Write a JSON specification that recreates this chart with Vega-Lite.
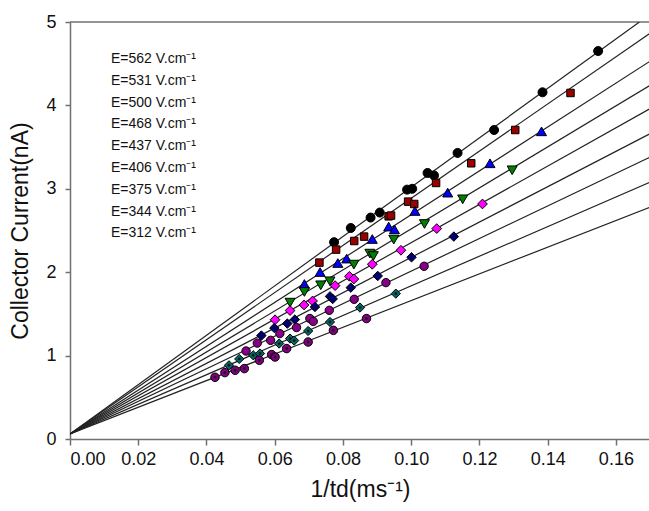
{
  "$schema": "https://vega.github.io/schema/vega-lite/v6.json",
  "width": 580,
  "height": 417,
  "autosize": {"type": "none"},
  "padding": {"left": 70, "top": 22, "right": 0, "bottom": 72},
  "background": "white",
  "config": {
    "view": {"stroke": null},
    "axis": {
      "grid": false,
      "domainColor": "#707070",
      "domainWidth": 1.5,
      "tickColor": "#707070",
      "tickWidth": 1.5,
      "tickSize": 5,
      "labelFont": "Liberation Sans",
      "labelFontSize": 18,
      "labelColor": "#111111",
      "titleFont": "Liberation Sans",
      "titleFontSize": 23,
      "titleFontWeight": "normal",
      "titleColor": "#111111"
    }
  },
  "datasets": {
    "lines": [
      {"E": 562, "x": 0, "y": 0.06}, {"E": 562, "x": 0.1669, "y": 5.0},
      {"E": 531, "x": 0, "y": 0.06}, {"E": 531, "x": 0.17, "y": 4.865},
      {"E": 500, "x": 0, "y": 0.06}, {"E": 500, "x": 0.17, "y": 4.53},
      {"E": 468, "x": 0, "y": 0.06}, {"E": 468, "x": 0.17, "y": 4.24},
      {"E": 437, "x": 0, "y": 0.06}, {"E": 437, "x": 0.17, "y": 3.96},
      {"E": 406, "x": 0, "y": 0.06}, {"E": 406, "x": 0.17, "y": 3.66},
      {"E": 375, "x": 0, "y": 0.06}, {"E": 375, "x": 0.17, "y": 3.38},
      {"E": 344, "x": 0, "y": 0.06}, {"E": 344, "x": 0.17, "y": 3.08},
      {"E": 312, "x": 0, "y": 0.06}, {"E": 312, "x": 0.17, "y": 2.78}
    ],
    "points": [
      {"E": 562, "x": 0.0774, "y": 2.36}, {"E": 562, "x": 0.0823, "y": 2.53}, {"E": 562, "x": 0.0881, "y": 2.655}, {"E": 562, "x": 0.0908, "y": 2.715}, {"E": 562, "x": 0.0988, "y": 2.99}, {"E": 562, "x": 0.1003, "y": 3.0}, {"E": 562, "x": 0.1048, "y": 3.19}, {"E": 562, "x": 0.1067, "y": 3.16}, {"E": 562, "x": 0.1136, "y": 3.43}, {"E": 562, "x": 0.1243, "y": 3.705}, {"E": 562, "x": 0.1385, "y": 4.157}, {"E": 562, "x": 0.1548, "y": 4.652},
      {"E": 531, "x": 0.0731, "y": 2.115}, {"E": 531, "x": 0.078, "y": 2.271}, {"E": 531, "x": 0.0833, "y": 2.374}, {"E": 531, "x": 0.0862, "y": 2.427}, {"E": 531, "x": 0.0934, "y": 2.67}, {"E": 531, "x": 0.0941, "y": 2.679}, {"E": 531, "x": 0.0991, "y": 2.846}, {"E": 531, "x": 0.1009, "y": 2.818}, {"E": 531, "x": 0.1073, "y": 3.07}, {"E": 531, "x": 0.1176, "y": 3.306}, {"E": 531, "x": 0.1305, "y": 3.705}, {"E": 531, "x": 0.1467, "y": 4.149},
      {"E": 500, "x": 0.0687, "y": 1.859}, {"E": 500, "x": 0.0733, "y": 2.002}, {"E": 500, "x": 0.0785, "y": 2.11}, {"E": 500, "x": 0.0811, "y": 2.163}, {"E": 500, "x": 0.0886, "y": 2.398}, {"E": 500, "x": 0.0934, "y": 2.547}, {"E": 500, "x": 0.0951, "y": 2.514}, {"E": 500, "x": 0.1011, "y": 2.734}, {"E": 500, "x": 0.1107, "y": 2.954}, {"E": 500, "x": 0.1231, "y": 3.306}, {"E": 500, "x": 0.1382, "y": 3.689},
      {"E": 468, "x": 0.0645, "y": 1.635}, {"E": 468, "x": 0.0687, "y": 1.763}, {"E": 468, "x": 0.0735, "y": 1.843}, {"E": 468, "x": 0.0762, "y": 1.891}, {"E": 468, "x": 0.0832, "y": 2.091}, {"E": 468, "x": 0.0879, "y": 2.223}, {"E": 468, "x": 0.0889, "y": 2.194}, {"E": 468, "x": 0.0949, "y": 2.391}, {"E": 468, "x": 0.1039, "y": 2.578}, {"E": 468, "x": 0.1151, "y": 2.874}, {"E": 468, "x": 0.1296, "y": 3.222},
      {"E": 437, "x": 0.0601, "y": 1.43}, {"E": 437, "x": 0.0645, "y": 1.54}, {"E": 437, "x": 0.0686, "y": 1.607}, {"E": 437, "x": 0.0711, "y": 1.655}, {"E": 437, "x": 0.0777, "y": 1.839}, {"E": 437, "x": 0.0819, "y": 1.951}, {"E": 437, "x": 0.0832, "y": 1.918}, {"E": 437, "x": 0.0886, "y": 2.095}, {"E": 437, "x": 0.097, "y": 2.263}, {"E": 437, "x": 0.1075, "y": 2.523}, {"E": 437, "x": 0.1209, "y": 2.818},
      {"E": 406, "x": 0.0561, "y": 1.24}, {"E": 406, "x": 0.0599, "y": 1.331}, {"E": 406, "x": 0.0637, "y": 1.384}, {"E": 406, "x": 0.0659, "y": 1.432}, {"E": 406, "x": 0.0718, "y": 1.583}, {"E": 406, "x": 0.0762, "y": 1.71}, {"E": 406, "x": 0.077, "y": 1.68}, {"E": 406, "x": 0.0823, "y": 1.815}, {"E": 406, "x": 0.0902, "y": 1.955}, {"E": 406, "x": 0.1001, "y": 2.179}, {"E": 406, "x": 0.1125, "y": 2.427},
      {"E": 375, "x": 0.0516, "y": 1.055}, {"E": 375, "x": 0.0549, "y": 1.15}, {"E": 375, "x": 0.0588, "y": 1.183}, {"E": 375, "x": 0.0615, "y": 1.264}, {"E": 375, "x": 0.0664, "y": 1.336}, {"E": 375, "x": 0.0703, "y": 1.445}, {"E": 375, "x": 0.0713, "y": 1.41}, {"E": 375, "x": 0.076, "y": 1.543}, {"E": 375, "x": 0.0833, "y": 1.675}, {"E": 375, "x": 0.0926, "y": 1.875}, {"E": 375, "x": 0.1038, "y": 2.071},
      {"E": 344, "x": 0.0466, "y": 0.884}, {"E": 344, "x": 0.0496, "y": 0.96}, {"E": 344, "x": 0.0537, "y": 1.004}, {"E": 344, "x": 0.0557, "y": 1.025}, {"E": 344, "x": 0.0613, "y": 1.144}, {"E": 344, "x": 0.0645, "y": 1.204}, {"E": 344, "x": 0.0657, "y": 1.18}, {"E": 344, "x": 0.0698, "y": 1.295}, {"E": 344, "x": 0.0762, "y": 1.403}, {"E": 344, "x": 0.085, "y": 1.576}, {"E": 344, "x": 0.0955, "y": 1.743},
      {"E": 312, "x": 0.0425, "y": 0.74}, {"E": 312, "x": 0.0454, "y": 0.796}, {"E": 312, "x": 0.0484, "y": 0.824}, {"E": 312, "x": 0.0511, "y": 0.844}, {"E": 312, "x": 0.0555, "y": 0.944}, {"E": 312, "x": 0.0591, "y": 1.012}, {"E": 312, "x": 0.0601, "y": 0.983}, {"E": 312, "x": 0.0635, "y": 1.084}, {"E": 312, "x": 0.0698, "y": 1.163}, {"E": 312, "x": 0.0772, "y": 1.303}, {"E": 312, "x": 0.0869, "y": 1.444}
    ]
  },
  "layer": [
    {
      "data": {"values": [{}]},
      "mark": {"type": "rule", "color": "#707070", "strokeWidth": 1.5},
      "encoding": {
        "y": {"datum": 5, "type": "quantitative", "scale": {"domain": [0, 5], "nice": false}}
      }
    },
    {
      "data": {"name": "lines"},
      "mark": {"type": "line", "color": "#222222", "strokeWidth": 1.2, "clip": true},
      "encoding": {
        "x": {"field": "x", "type": "quantitative"},
        "y": {"field": "y", "type": "quantitative"},
        "detail": {"field": "E", "type": "nominal"}
      }
    },
    {
      "data": {"name": "points"},
      "mark": {"type": "point", "filled": true, "opacity": 1, "stroke": "#000000", "strokeWidth": 1},
      "encoding": {
        "x": {
          "field": "x", "type": "quantitative",
          "scale": {"domain": [0, 0.17], "nice": false, "zero": true},
          "axis": {"title": "1/td(ms⁻¹)", "values": [0, 0.02, 0.04, 0.06, 0.08, 0.1, 0.12, 0.14, 0.16], "format": ".2f", "tickSize": 6, "labelPadding": 5, "titlePadding": 10}
        },
        "y": {
          "field": "y", "type": "quantitative",
          "scale": {"domain": [0, 5], "nice": false},
          "axis": {"title": "Collector Current(nA)", "values": [0, 1, 2, 3, 4, 5], "format": "d", "labelPadding": 9, "titlePadding": 13}
        },
        "color": {
          "field": "E", "type": "nominal",
          "scale": {"domain": [562, 531, 500, 468, 437, 406, 375, 344, 312], "range": ["#000000", "#990000", "#0000ff", "#008000", "#ff00ff", "#000070", "#880088", "#006868", "#800080"]},
          "legend": {
            "orient": "none", "legendX": 27, "legendY": 30, "title": null,
            "labelExpr": "'E=' + datum.label + ' V.cm⁻¹'",
            "symbolOpacity": 0, "symbolStrokeWidth": 0, "symbolSize": 1,
            "labelFont": "Liberation Sans", "labelFontSize": 14, "labelColor": "#111111",
            "labelOffset": 0, "rowPadding": 7.8, "padding": 0
          }
        },
        "shape": {
          "field": "E", "type": "nominal",
          "scale": {"domain": [562, 531, 500, 468, 437, 406, 375, 344, 312], "range": ["circle", "square", "triangle-up", "triangle-down", "diamond", "diamond", "circle", "diamond", "circle"]},
          "legend": null
        },
        "size": {
          "field": "E", "type": "ordinal",
          "scale": {"type": "ordinal", "domain": [562, 531, 500, 468, 437, 406, 375, 344, 312], "range": [81, 56, 100, 100, 95, 90, 70, 85, 72]},
          "legend": null
        }
      }
    },
    {
      "data": {"name": "points"},
      "transform": [{"filter": {"field": "E", "oneOf": [344, 312]}}],
      "mark": {"type": "circle", "color": "#151515", "size": 8, "opacity": 1},
      "encoding": {
        "x": {"field": "x", "type": "quantitative"},
        "y": {"field": "y", "type": "quantitative"}
      }
    }
  ]
}
